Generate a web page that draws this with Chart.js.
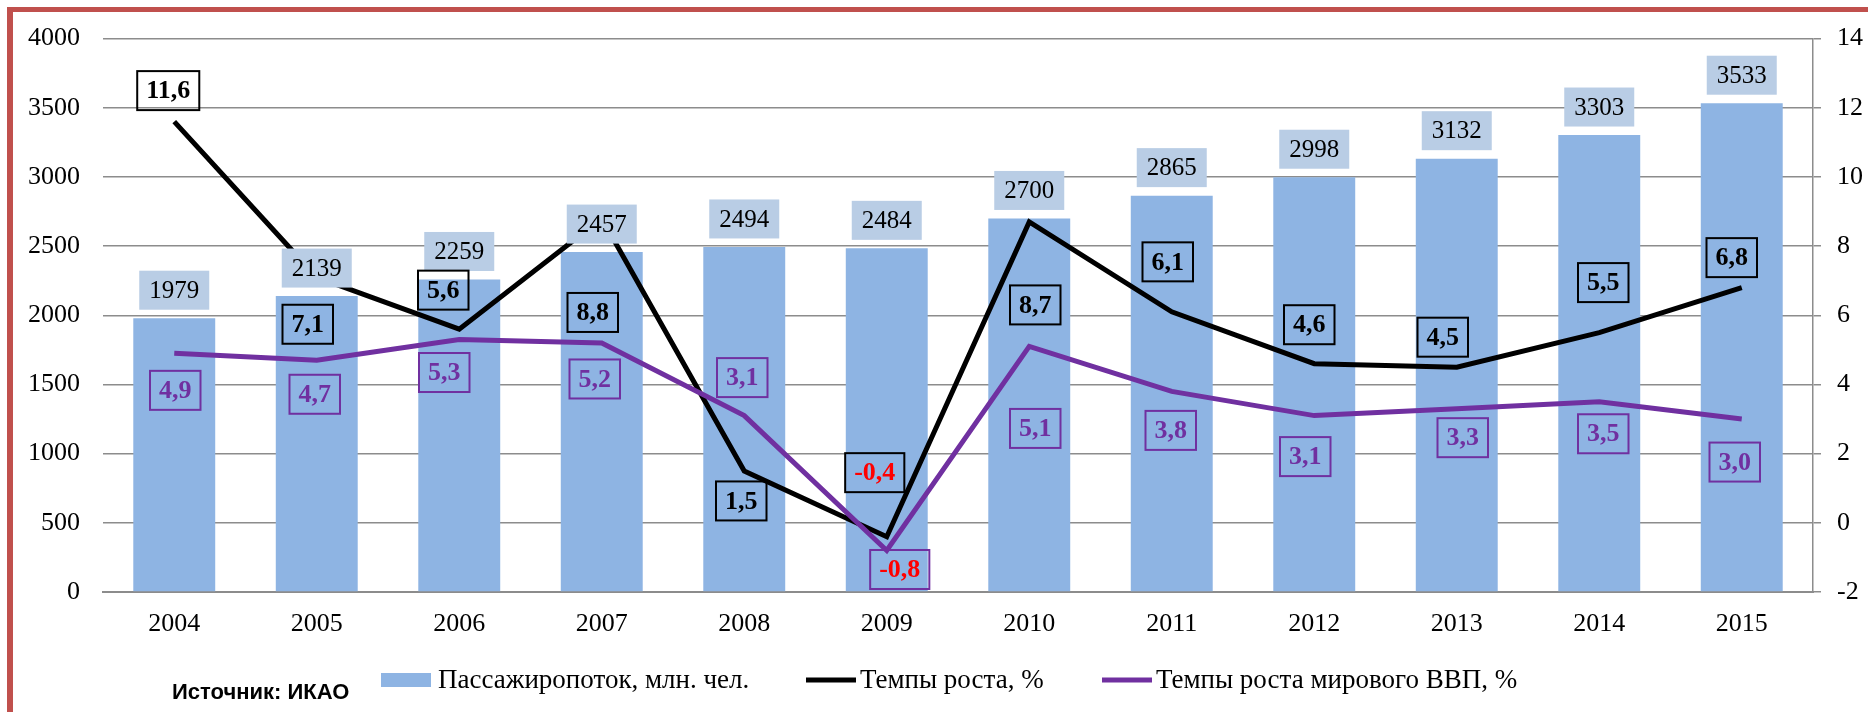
<!DOCTYPE html>
<html>
<head>
<meta charset="utf-8">
<script src="https://cdn.jsdelivr.net/npm/chart.js@4/dist/chart.umd.min.js"></script>
<style>
  body { margin: 0; background: #fff; }
  #wrap { position: relative; width: 1868px; height: 712px; }
  #frame {
    position: absolute; left: 7px; top: 7px; right: 0; bottom: 0;
    border-left: 6px solid #c0504d; border-top: 5px solid #c0504d;
    pointer-events: none;
  }
</style>
</head>
<body>
<div id="wrap">
  <canvas id="chart" width="1868" height="712"></canvas>
  <div id="frame"></div>
</div>
<script>
const years = ["2004", "2005", "2006", "2007", "2008", "2009", "2010", "2011", "2012", "2013", "2014", "2015"];
const passengers = [1979, 2139, 2259, 2457, 2494, 2484, 2700, 2865, 2998, 3132, 3303, 3533];
const growthRate = [11.6, 7.1, 5.6, 8.8, 1.5, -0.4, 8.7, 6.1, 4.6, 4.5, 5.5, 6.8];
const gdpRate = [4.9, 4.7, 5.3, 5.2, 3.1, -0.8, 5.1, 3.8, 3.1, 3.3, 3.5, 3.0];

const seriesNames = ["Пассажиропоток, млн. чел.", "Темпы роста, %", "Темпы роста мирового ВВП, %"];
const sourceNote = "Источник: ИКАО";

// where each boxed label sits relative to its point (px)
const growthLabelShift = [[-6, -31], [-9, 47], [-16, -39], [-9, 94], [-3, 30], [-12, -64],
  [6, 83], [-4, -50], [-5, -39], [-14, -30], [4, -50], [-10, -30]];
const gdpLabelShift = [[1, 37], [-2, 34], [-15, 33], [-7, 36], [-2, -38], [13, 19],
  [6, 82], [-1, 39], [-9, 41], [6, 29], [4, 32], [-7, 43]];

const serif = "'Liberation Serif', 'Times New Roman', serif";

function fmt(v) {
  return v.toFixed(1).replace(".", ",");
}

const labelPlugin = {
  id: "valueLabels",
  afterDatasetsDraw(chart) {
    const ctx = chart.ctx;
    ctx.save();
    ctx.textAlign = "center";
    ctx.textBaseline = "middle";

    // bar values in light blue boxes
    ctx.font = "25px " + serif;
    chart.getDatasetMeta(0).data.forEach(function (bar, i) {
      const cx = bar.x;
      const cy = bar.y - 28;
      ctx.fillStyle = "#b9cde5";
      ctx.fillRect(cx - 35, cy - 19.5, 70, 39);
      ctx.fillStyle = "#000";
      ctx.fillText(String(passengers[i]), cx, cy + 1);
    });

    // line values in outlined boxes
    ctx.font = "bold 26px " + serif;
    const lines = [
      { index: 1, values: growthRate, shift: growthLabelShift, color: "#000000" },
      { index: 2, values: gdpRate, shift: gdpLabelShift, color: "#7030a0" }
    ];
    lines.forEach(function (line) {
      chart.getDatasetMeta(line.index).data.forEach(function (pt, i) {
        const text = fmt(line.values[i]);
        const w = ctx.measureText(text).width + 18;
        const h = 39;
        const cx = pt.x + line.shift[i][0];
        const cy = pt.y + line.shift[i][1];
        ctx.lineWidth = 2;
        ctx.strokeStyle = line.color;
        ctx.strokeRect(cx - w / 2, cy - h / 2, w, h);
        ctx.fillStyle = line.values[i] < 0 ? "#ff0000" : line.color;
        ctx.fillText(text, cx, cy + 1);
      });
    });
    ctx.restore();
  },
  afterDraw(chart) {
    const ctx = chart.ctx;
    const ds = chart.data.datasets;
    const y = 680;
    ctx.save();
    ctx.textBaseline = "middle";
    ctx.textAlign = "left";

    // legend
    ctx.fillStyle = ds[0].backgroundColor;
    ctx.fillRect(381, y - 7, 50, 14);
    ctx.lineWidth = 5;
    ctx.strokeStyle = ds[1].borderColor;
    ctx.beginPath(); ctx.moveTo(806, y); ctx.lineTo(856, y); ctx.stroke();
    ctx.strokeStyle = ds[2].borderColor;
    ctx.beginPath(); ctx.moveTo(1102, y); ctx.lineTo(1152, y); ctx.stroke();

    ctx.fillStyle = "#000";
    ctx.font = "27px " + serif;
    ctx.fillText(ds[0].label, 438, y + 1);
    ctx.fillText(ds[1].label, 860, y + 1);
    ctx.fillText(ds[2].label, 1156, y + 1);

    ctx.font = "bold 22px 'Liberation Sans', Arial, sans-serif";
    ctx.fillText(sourceNote, 172, 693);
    ctx.restore();
  }
};

const ctx = document.getElementById("chart").getContext("2d");

new Chart(ctx, {
  type: "bar",
  data: {
    labels: years,
    datasets: [
      {
        label: seriesNames[0],
        data: passengers,
        backgroundColor: "#8eb4e3",
        categoryPercentage: 1,
        barPercentage: 0.575,
        yAxisID: "y",
        order: 3
      },
      {
        type: "line",
        label: seriesNames[1],
        data: growthRate,
        borderColor: "#000000",
        borderWidth: 5,
        pointRadius: 0,
        tension: 0,
        fill: false,
        yAxisID: "y1",
        order: 2
      },
      {
        type: "line",
        label: seriesNames[2],
        data: gdpRate,
        borderColor: "#7030a0",
        borderWidth: 5,
        pointRadius: 0,
        tension: 0,
        fill: false,
        yAxisID: "y1",
        order: 1
      }
    ]
  },
  options: {
    responsive: false,
    animation: false,
    layout: { padding: { top: 38, left: 0, right: 0, bottom: 0 } },
    plugins: {
      legend: { display: false },
      tooltip: { enabled: false }
    },
    scales: {
      x: {
        grid: { display: false, drawTicks: false },
        border: { display: true, color: "#8c8c8c", width: 2 },
        ticks: { color: "#000", font: { family: serif, size: 26 }, padding: 17 },
        afterFit: function (scale) { scale.height = 120; }
      },
      y: {
        position: "left",
        min: 0,
        max: 4000,
        ticks: {
          stepSize: 500,
          color: "#000",
          font: { family: serif, size: 26 },
          padding: 23,
          callback: function (value) { return String(value); }
        },
        grid: { color: "#8c8c8c", lineWidth: 1.5, drawTicks: false },
        border: { display: false },
        afterFit: function (scale) { scale.width = 103; }
      },
      y1: {
        position: "right",
        min: -2,
        max: 14,
        ticks: {
          stepSize: 2,
          color: "#000",
          font: { family: serif, size: 26 },
          padding: 16,
          callback: function (value) { return String(value); }
        },
        grid: { drawOnChartArea: false, drawTicks: true, tickLength: 8, color: "#8c8c8c", lineWidth: 1.5 },
        border: { display: true, color: "#8c8c8c", width: 1.5 },
        afterFit: function (scale) { scale.width = 55; }
      }
    }
  },
  plugins: [labelPlugin]
});
</script>
</body>
</html>
